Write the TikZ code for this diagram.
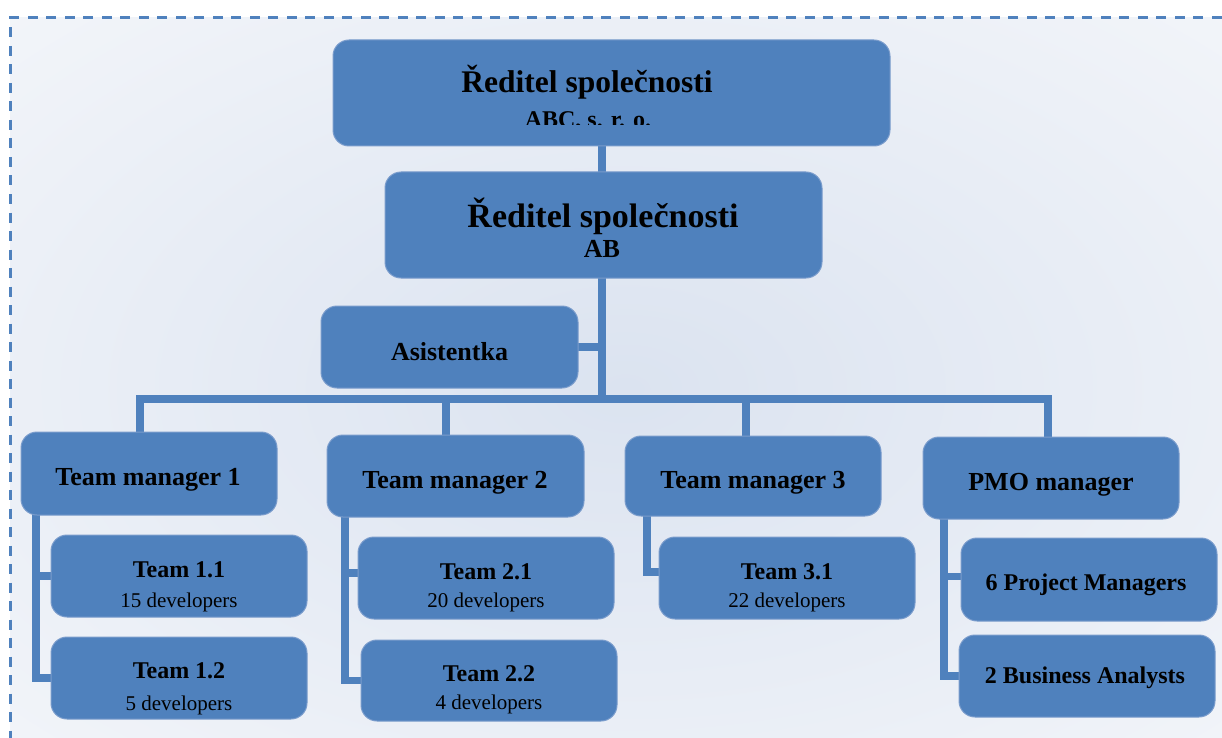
\documentclass[tikz,border=0pt]{standalone}
\usepackage{fontspec}
\setmainfont{Liberation Serif}
\definecolor{boxblue}{RGB}{79,129,189}
\definecolor{boxedge}{RGB}{122,156,204}
\definecolor{bgin}{RGB}{219,227,240}
\definecolor{bgout}{RGB}{249,250,252}
\pgfdeclarelayer{shadelayer}
\pgfdeclarelayer{linelayer}
\pgfsetlayers{shadelayer,linelayer,main}
\pgfdeclareradialshading{bgglow}{\pgfpoint{0bp}{0bp}}{color(0bp)=(bgin); color(46bp)=(bgout); color(100bp)=(bgout)}
\begin{document}
\begin{tikzpicture}[x=1pt,y=-1pt,
  box/.style={draw=boxedge, line width=1pt, fill=boxblue, rounded corners=16pt, inner sep=0pt},
  conn/.style={draw=boxblue, line width=7.5pt},
  txt/.style={anchor=base, inner sep=0pt, text=black},
  title/.style={txt, font=\fontsize{31.5}{36}\selectfont\bfseries},
  mgr/.style={txt, font=\fontsize{26}{30}\selectfont\bfseries},
  team/.style={txt, font=\fontsize{24}{28}\selectfont\bfseries},
  dev/.style={txt, font=\fontsize{21}{25}\selectfont}]

\useasboundingbox (0,0) rectangle (1222,738);

% soft background and dashed frame
\begin{pgfonlayer}{shadelayer}
  \clip (0,0) rectangle (1222,738);
  \shade[shading=bgglow] (10.7,17.3) rectangle (1240,760);
  \draw[boxblue, line width=2.7pt, dash pattern=on 10pt off 8.5pt]
    (1240,17.3) -- (10.7,17.3) -- (10.7,760);
\end{pgfonlayer}

% boxes
\node[box, minimum width=557pt, minimum height=106pt] (top) at (611.5,93) {};
\node[box, minimum width=437pt, minimum height=106pt] (ab) at (603.5,225) {};
\node[box, minimum width=257pt, minimum height=82pt] (asis) at (449.5,347) {};
\node[box, minimum width=256pt, minimum height=83pt] (tm1) at (149,473.5) {};
\node[box, minimum width=257pt, minimum height=82pt] (tm2) at (455.5,476) {};
\node[box, minimum width=256pt, minimum height=80pt] (tm3) at (753,476) {};
\node[box, minimum width=256pt, minimum height=82pt] (pmo) at (1051,478) {};
\node[box, minimum width=256pt, minimum height=82pt] (t11) at (179,576) {};
\node[box, minimum width=256pt, minimum height=82pt] (t12) at (179,678) {};
\node[box, minimum width=256pt, minimum height=82pt] (t21) at (486,578) {};
\node[box, minimum width=256pt, minimum height=81pt] (t22) at (489,680.5) {};
\node[box, minimum width=256pt, minimum height=82pt] (t31) at (787,578) {};
\node[box, minimum width=256pt, minimum height=83pt] (pm) at (1089,579.5) {};
\node[box, minimum width=256pt, minimum height=82pt] (ba) at (1087,676) {};

% labels
\node[title] (topT) at (587,93) {Ředitel společnosti};
\begin{scope}
  \clip (333,40) rectangle (890,125);
  \node[team] (topS) at (588,128) {ABC, s. r. o.};
\end{scope}
\node[title, font=\fontsize{34}{38}\selectfont\bfseries] (abT) at (603,227) {Ředitel společnosti};
\node[mgr] (abS) at (602,257) {AB};
\node[mgr] (asisT) at (449.5,360) {Asistentka};
\node[mgr] (tm1T) at (148,485) {Team manager 1};
\node[mgr] (tm2T) at (455,488) {Team manager 2};
\node[mgr] (tm3T) at (753,488) {Team manager 3};
\node[mgr] (pmoT) at (1051,490) {PMO manager};
\node[team] (t11T) at (179,577) {Team 1.1};
\node[dev]  (t11S) at (179,607) {15 developers};
\node[team] (t12T) at (179,678) {Team 1.2};
\node[dev]  (t12S) at (179,710) {5 developers};
\node[team] (t21T) at (486,579) {Team 2.1};
\node[dev]  (t21S) at (486,607) {20 developers};
\node[team] (t22T) at (489,681) {Team 2.2};
\node[dev]  (t22S) at (489,709) {4 developers};
\node[team] (t31T) at (787,579) {Team 3.1};
\node[dev]  (t31S) at (787,607) {22 developers};
\node[team] (pmT) at (1086,590) {6 Project Managers};
\node[team] (baT) at (1085,683) {2 Business Analysts};

% connectors
\coordinate (trunk) at (602,399);
\coordinate (d1) at (140,399);
\coordinate (d2) at (446,399);
\coordinate (d3) at (746,399);
\coordinate (d4) at (1048,399);
\coordinate (s1) at (36,0);
\coordinate (s2) at (345,0);
\coordinate (s3) at (647,0);
\coordinate (s4) at (944,0);
\begin{pgfonlayer}{linelayer}
  \draw[conn] (top.center -| trunk) -- (ab.center -| trunk);
  \draw[conn] (ab.center -| trunk) -- (trunk);
  \draw[conn] (asis.center) -- (asis.center -| trunk);
  \draw[conn] (tm1.center -| d1) -- (d1) -- (d4) -- (pmo.center -| d4);
  \draw[conn] (d2) -- (tm2.center -| d2);
  \draw[conn] (d3) -- (tm3.center -| d3);
  \draw[conn] (tm1.center -| s1) |- (t11.center);
  \draw[conn] (tm1.center -| s1) |- (t12.center);
  \draw[conn] (tm2.center -| s2) |- ([yshift=5pt]t21.center);
  \draw[conn] (tm2.center -| s2) |- (t22.center);
  \draw[conn] (tm3.center -| s3) |- ([yshift=6pt]t31.center);
  \draw[conn] (pmo.center -| s4) |- ([yshift=3pt]pm.center);
  \draw[conn] (pmo.center -| s4) |- (ba.center);
\end{pgfonlayer}
\end{tikzpicture}
\end{document}
